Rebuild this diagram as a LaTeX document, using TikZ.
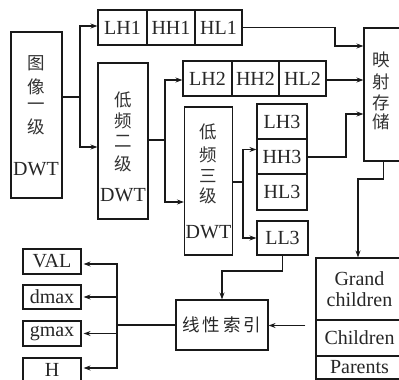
\documentclass[tikz,border=0pt]{standalone}
\usepackage{fontspec}
\setmainfont{Liberation Serif}
\newfontfamily\zhfont{Noto Sans CJK SC}
\usetikzlibrary{arrows.meta,calc}
\begin{document}
\begin{tikzpicture}[x=1pt,y=-1pt,
  box/.style={draw=black!90, line width=1.15pt, inner sep=0pt, font=\fontsize{20}{21}\selectfont, text=black!85},
  zh/.style={inner sep=0pt, font=\zhfont\fontsize{17.5}{18}\selectfont, text=black!80},
  lat/.style={inner sep=0pt, font=\fontsize{20}{21}\selectfont, text=black!85},
  conn/.style={draw=black!90, line width=1.15pt},
  arr/.style={draw=black!90, line width=1.15pt, -{Stealth[length=7pt,width=5pt]}}
]
\useasboundingbox (0,0) rectangle (399,380);
% first level
\node[box, minimum width=51pt, minimum height=166pt] (b1) at (36.5,115) {};
\foreach \t/\y [count=\i] in {图/63,像/87,一/107,级/127} \node[zh] (c1\i) at (36,\y) {\t};
\node[lat] (d1) at (36,169.5) {DWT};
% row 1
\node[box, minimum width=49pt, minimum height=35pt] (lh1) at (122.5,27.5) {LH1};
\node[box, minimum width=48pt, minimum height=35pt] (hh1) at (171,27.5) {HH1};
\node[box, minimum width=47pt, minimum height=35pt] (hl1) at (218.5,27.5) {HL1};
% second level
\node[box, minimum width=50pt, minimum height=156pt] (b2) at (123,141) {};
\foreach \t/\y [count=\i] in {低/99.5,频/121,二/141,级/164} \node[zh] (c2\i) at (123,\y) {\t};
\node[lat] (d2) at (123,195) {DWT};
% row 2
\node[box, minimum width=49pt, minimum height=35pt] (lh2) at (207.5,78.5) {LH2};
\node[box, minimum width=47pt, minimum height=35pt] (hh2) at (255.5,78.5) {HH2};
\node[box, minimum width=47pt, minimum height=35pt] (hl2) at (302.5,78.5) {HL2};
% third level
\node[box, minimum width=48pt, minimum height=148pt] (b3) at (208.5,181) {};
\foreach \t/\y [count=\i] in {低/132,频/155,三/176,级/196} \node[zh] (c3\i) at (208.5,\y) {\t};
\node[lat] (d3) at (208.5,232.5) {DWT};
% column 3
\node[box, minimum width=50pt, minimum height=35pt] (lh3) at (282,121.5) {LH3};
\node[box, minimum width=50pt, minimum height=35pt] (hh3) at (282,156.5) {HH3};
\node[box, minimum width=50pt, minimum height=36pt] (hl3) at (282,192) {HL3};
\node[box, minimum width=51pt, minimum height=34pt] (ll3) at (282.5,238) {LL3};
% mapping storage
\node[box, minimum width=39pt, minimum height=133pt] (map) at (383.5,94.5) {};
\foreach \t/\y [count=\i] in {映/60,射/82,存/103,储/122} \node[zh] (c4\i) at (381,\y) {\t};
% family stack
\node[box, minimum width=87pt, minimum height=62pt, align=center] (gc1) at (359.5,289) {Grand\\children};
\node[box, minimum width=87pt, minimum height=36pt] (gc2) at (359.5,338) {Children};
\node[box, minimum width=87pt, minimum height=23pt] (gc3) at (359.5,367.5) {Parents};
% linear index
\node[box, minimum width=92pt, minimum height=50pt, font=\zhfont\fontsize{17.5}{18}\selectfont] (lin) at (222,325) {线\hspace{3pt}性\hspace{3pt}索\hspace{3pt}引};
% outputs
\node[box, minimum width=58pt, minimum height=25pt] (val) at (52,261.5) {VAL};
\node[box, minimum width=58pt, minimum height=24pt] (dmax) at (52,297) {dmax};
\node[box, minimum width=58pt, minimum height=25pt] (gmax) at (52,333.5) {gmax};
\node[box, minimum width=58pt, minimum height=24pt] (hbox) at (52,370) {H};
% connectors
\coordinate (j1) at (80,97);
\draw[conn] (b1.east |- j1) -- (j1);
\draw[arr] (j1) |- ($(lh1.west)+(0,-1.5)$);
\draw[arr] (j1) |- ($(b2.west)+(0,6)$);
\coordinate (j2) at (165,140);
\draw[conn] (b2.east |- j2) -- (j2);
\draw[arr] (j2) |- ($(lh2.west)+(0,1.5)$);
\draw[arr] (j2) |- ($(b3.west)+(0,21)$);
\coordinate (j3) at (243,182);
\draw[conn] (b3.east |- j3) -- (j3);
\draw[arr] (j3) |- ($(hh3.west)+(0,-7)$);
\draw[arr] (j3) |- (ll3.west);
\coordinate (k1) at (335,27.5);
\draw[arr] (hl1.east) -- (k1) |- ($(map.west)+(0,-48.5)$);
\draw[arr] ($(hl2.east)+(0,1.5)$) -- ($(map.west |- hl2.east)+(0,1.5)$);
\coordinate (k2) at (346,157);
\draw[arr] (hh3.east |- k2) -- (k2) |- ($(map.west)+(0,19.5)$);
\coordinate (k3) at (383.5,179);
\draw[arr] (map.south) -- (k3) -| ($(gc1.north)+(-1.5,0)$);
\coordinate (k4) at (283,271);
\draw[arr] (ll3.south) -- (ll3.south |- k4) -| (lin.north);
\draw[arr] ($(lin.east -| gc2.west)+(-10,0.5)$) -- ($(lin.east)+(0,0.5)$);
\coordinate (j4) at (117,325);
\draw[conn] (lin.west) -- (j4);
\draw[conn] (117,264) -- (117,368);
\draw[arr, shorten >=2pt] (j4) |- ($(val.east)+(0,2.5)$);
\draw[arr, shorten >=2pt] (j4) |- (dmax.east);
\draw[arr, shorten >=2pt] (j4) |- (gmax.east);
\draw[arr, shorten >=2pt] (j4) |- ($(hbox.east)+(0,-2)$);
\end{tikzpicture}
\end{document}
